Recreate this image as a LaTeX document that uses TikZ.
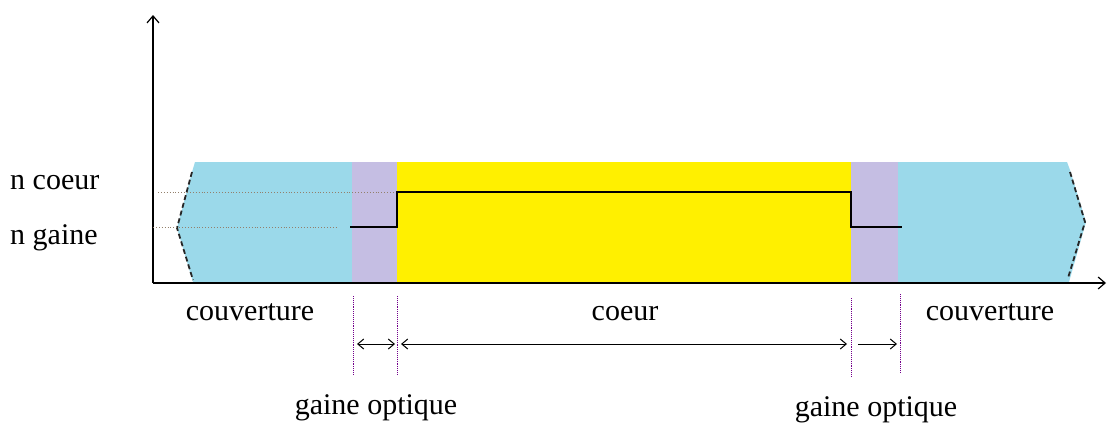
\documentclass[tikz,border=0pt]{standalone}
\usepackage{fontspec}
\setmainfont{Liberation Serif}
\usetikzlibrary{arrows.meta}
\definecolor{cblue}{RGB}{155,217,234}
\definecolor{cpurple}{RGB}{197,190,227}
\definecolor{cyellow}{RGB}{255,240,0}
\tikzset{
  lbl/.style={inner sep=0pt, font=\fontsize{30}{30}\selectfont},
  axis/.style={line width=1.4pt, -{Straight Barb[length=7pt,width=12pt,line width=1.2pt]}},
  dim/.style={line width=1pt, {Straight Barb[length=6pt,width=10pt]}-{Straight Barb[length=6pt,width=10pt]}},
  dimr/.style={line width=1pt, -{Straight Barb[length=6pt,width=10pt]}},
  guide/.style={dotted, line width=0.9pt, gray!70!brown},
  vguide/.style={densely dotted, line width=0.9pt, blue!40!purple},
  edge/.style={dash pattern=on 5pt off 3pt, line width=1.8pt, black!85},
  profile/.style={line width=1.5pt}
}
\begin{document}
\begin{tikzpicture}[x=1pt,y=-1pt]
\useasboundingbox (0,0) rectangle (1107,426);
% cladding (blue)
\fill[cblue] (195,162) -- (1067,162) -- (1070,170) -- (1086,222) -- (1069,282) -- (193,282) -- (177,228) -- (192,172) -- cycle;
\fill[cpurple] (352,162) rectangle (397,282);
\fill[cpurple] (851,162) rectangle (898,282);
\fill[cyellow] (397,162) rectangle (851,282);
% broken edges
\coordinate (lt) at (192,172); \coordinate (lm) at (177,228); \coordinate (lb) at (193,280);
\coordinate (rt) at (1070,172); \coordinate (rm) at (1085,222); \coordinate (rb) at (1068,278);
\draw[edge] (lt) -- (lm) -- (lb);
\draw[edge] (rt) -- (rm) -- (rb);
% axes
\coordinate (O) at (153,283);
\coordinate (ytip) at (153,15);
\coordinate (xtip) at (1106,283);
\draw[axis] (O) -- (ytip);
\draw[axis] (O) -- (xtip);
% guides
\node[lbl, anchor=west] (ncoeur) at (10,183) {n coeur};
\node[lbl, anchor=west] (ngaine) at (10,238) {n gaine};
\coordinate (gc0) at (158,192); \coordinate (gc1) at (397,192);
\coordinate (gg0) at (153,227); \coordinate (gg1) at (338,227);
\draw[guide] (gc0) -- (gc1);
\draw[guide] (gg0) -- (gg1);
% index profile
\coordinate (p0) at (350,227); \coordinate (p1) at (397,227); \coordinate (p2) at (397,192);
\coordinate (p3) at (851,192); \coordinate (p4) at (851,227); \coordinate (p5) at (902,227);
\draw[profile] (p0) -- (p1) -- (p2) -- (p3) -- (p4) -- (p5);
% vertical guides
\coordinate (v1a) at (353,296); \coordinate (v1b) at (353,374);
\coordinate (v2a) at (397,296); \coordinate (v2b) at (397,374);
\coordinate (v3a) at (851,298); \coordinate (v3b) at (851,377);
\coordinate (v4a) at (900,294); \coordinate (v4b) at (900,372);
\draw[vguide] (v1a) -- (v1b);
\draw[vguide] (v2a) -- (v2b);
\draw[vguide] (v3a) -- (v3b);
\draw[vguide] (v4a) -- (v4b);
% dimension arrows
\coordinate (a1) at (357,344); \coordinate (a2) at (395,344);
\coordinate (a3) at (401,344); \coordinate (a4) at (847,344);
\coordinate (a5) at (858,344); \coordinate (a6) at (897,344);
\draw[dim] (a1) -- (a2);
\draw[dim] (a3) -- (a4);
\draw[dimr] (a5) -- (a6);
% labels
\node[lbl] (couvL) at (250,312) {couverture};
\node[lbl] (coeur) at (625,314) {coeur};
\node[lbl] (couvR) at (990,312) {couverture};
\node[lbl] (gaineL) at (376,408) {gaine optique};
\node[lbl] (gaineR) at (876,410) {gaine optique};
\end{tikzpicture}
\end{document}
